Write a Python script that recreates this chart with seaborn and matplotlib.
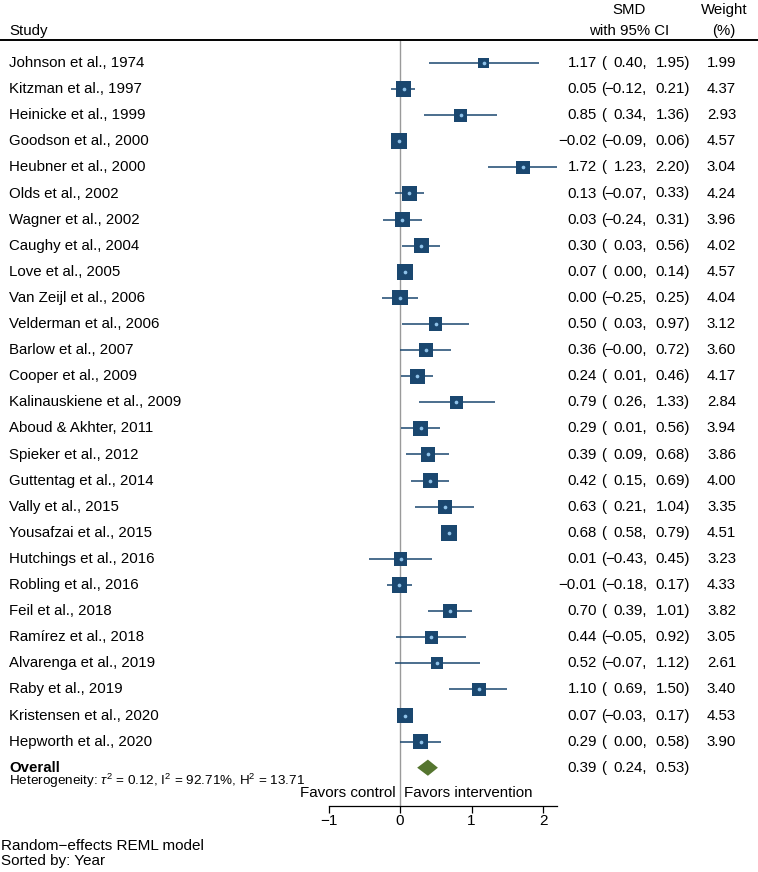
import numpy as np
import pandas as pd
import seaborn as sns
import matplotlib.pyplot as plt

# data
studies = ["Johnson et al., 1974", "Kitzman et al., 1997", "Heinicke et al., 1999",
           "Goodson et al., 2000", "Heubner et al., 2000", "Olds et al., 2002",
           "Wagner et al., 2002", "Caughy et al., 2004", "Love et al., 2005",
           "Van Zeijl et al., 2006", "Velderman et al., 2006", "Barlow et al., 2007",
           "Cooper et al., 2009", "Kalinauskiene et al., 2009", "Aboud & Akhter, 2011",
           "Spieker et al., 2012", "Guttentag et al., 2014", "Vally et al., 2015",
           "Yousafzai et al., 2015", "Hutchings et al., 2016", "Robling et al., 2016",
           "Feil et al., 2018", "Ramírez et al., 2018", "Alvarenga et al., 2019",
           "Raby et al., 2019", "Kristensen et al., 2020", "Hepworth et al., 2020"]
smd = [1.17, 0.05, 0.85, -0.02, 1.72, 0.13, 0.03, 0.30, 0.07, 0.00, 0.50, 0.36, 0.24,
       0.79, 0.29, 0.39, 0.42, 0.63, 0.68, 0.01, -0.01, 0.70, 0.44, 0.52, 1.10, 0.07, 0.29]
ci_low = [0.40, -0.12, 0.34, -0.09, 1.23, -0.07, -0.24, 0.03, 0.00, -0.25, 0.03, -0.00,
          0.01, 0.26, 0.01, 0.09, 0.15, 0.21, 0.58, -0.43, -0.18, 0.39, -0.05, -0.07,
          0.69, -0.03, 0.00]
ci_high = [1.95, 0.21, 1.36, 0.06, 2.20, 0.33, 0.31, 0.56, 0.14, 0.25, 0.97, 0.72, 0.46,
           1.33, 0.56, 0.68, 0.69, 1.04, 0.79, 0.45, 0.17, 1.01, 0.92, 1.12, 1.50, 0.17, 0.58]
ci_low_txt = ["0.40", "−0.12", "0.34", "−0.09", "1.23", "−0.07", "−0.24", "0.03", "0.00",
              "−0.25", "0.03", "−0.00", "0.01", "0.26", "0.01", "0.09", "0.15", "0.21",
              "0.58", "−0.43", "−0.18", "0.39", "−0.05", "−0.07", "0.69", "−0.03", "0.00"]
weights = [1.99, 4.37, 2.93, 4.57, 3.04, 4.24, 3.96, 4.02, 4.57, 4.04, 3.12, 3.60, 4.17,
           2.84, 3.94, 3.86, 4.00, 3.35, 4.51, 3.23, 4.33, 3.82, 3.05, 2.61, 3.40, 4.53, 3.90]
overall = [0.39, 0.24, 0.53]
x_ticks = [-1, 0, 1, 2]

navy = "#1a476f"
green = "#55752f"

df = pd.DataFrame({"study": studies, "smd": smd, "lo": ci_low, "hi": ci_high,
                   "weight": weights})
df["row"] = np.arange(len(df))

plt.rcParams["font.family"] = ["Liberation Sans", "DejaVu Sans"]
plt.rcParams["mathtext.fontset"] = "custom"
plt.rcParams["mathtext.rm"] = "Liberation Sans"
plt.rcParams["mathtext.it"] = "Liberation Sans:italic"
fs = 10.8

fig = plt.figure(figsize=(7.58, 8.72), dpi=100)
ax = fig.add_axes([0, 0, 1, 1])

# pixel helpers for placing text (plot scale: 0 at 400px, 71.5px per unit)
def px(p):
    return (p - 400) / 71.5

def py(p):
    return (p - 63) / 26.1

ax.set_xlim(px(0), px(758))
ax.set_ylim(py(872), py(0))

# zero line and header rule
ax.plot([0, 0], [py(40), py(806)], color="#9a9a9a", lw=1.0, zorder=1)
ax.plot([px(0), px(758)], [py(40), py(40)], color="black", lw=1.4, clip_on=False)

# confidence intervals
ax.hlines(df["row"], df["lo"], df["hi"], color=navy, lw=1.1, zorder=2)

# weighted squares
sns.scatterplot(data=df, x="smd", y="row", size="weight", sizes=(0, 145),
                size_norm=(0, 5), marker="s", color=navy, linewidth=0,
                legend=False, ax=ax, zorder=3)
sns.scatterplot(data=df, x="smd", y="row", s=7, color="#8fc3ea", linewidth=0,
                legend=False, ax=ax, zorder=4)

# overall diamond
orow = len(df)
est, olo, ohi = overall
ax.fill([olo, est, ohi, est], [orow, orow - 0.31, orow, orow + 0.31],
        color=green, lw=0, zorder=3)

# column positions (px)
c_est, c_par, c_lo, c_hi, c_w = 597, 601, 647, 690, 736

for i, r in df.iterrows():
    ax.text(px(9), r["row"], r["study"], ha="left", va="center", fontsize=fs)
    e = f"{r['smd']:.2f}".replace("-", "−")
    h = f"{r['hi']:.2f}".replace("-", "−")
    ax.text(px(c_est), i, e, ha="right", va="center", fontsize=fs)
    ax.text(px(c_par), i, "(", ha="left", va="center", fontsize=fs)
    ax.text(px(c_lo), i, ci_low_txt[i] + ",", ha="right", va="center", fontsize=fs)
    ax.text(px(c_hi), i, h + ")", ha="right", va="center", fontsize=fs)
    ax.text(px(c_w), i, f"{r['weight']:.2f}", ha="right", va="center", fontsize=fs)

ax.text(px(9), orow, "Overall", ha="left", va="center", fontsize=fs, fontweight="bold")
ax.text(px(c_est), orow, f"{est:.2f}", ha="right", va="center", fontsize=fs)
ax.text(px(c_par), orow, "(", ha="left", va="center", fontsize=fs)
ax.text(px(c_lo), orow, f"{olo:.2f},", ha="right", va="center", fontsize=fs)
ax.text(px(c_hi), orow, f"{ohi:.2f})", ha="right", va="center", fontsize=fs)
ax.text(px(9), py(781), r"Heterogeneity: $\tau^2$ = 0.12, I$^2$ = 92.71%, H$^2$ = 13.71",
        ha="left", va="center", fontsize=9.7)

# headers
ax.text(px(9), py(31), "Study", ha="left", va="center", fontsize=fs)
ax.text(px(629), py(10), "SMD", ha="center", va="center", fontsize=fs)
ax.text(px(629), py(31), "with 95% CI", ha="center", va="center", fontsize=fs)
ax.text(px(724), py(10), "Weight", ha="center", va="center", fontsize=fs)
ax.text(px(724), py(31), "(%)", ha="center", va="center", fontsize=fs)

ax.text(px(396), py(793), "Favors control", ha="right", va="center", fontsize=10.9)
ax.text(px(404), py(793), "Favors intervention", ha="left", va="center", fontsize=10.9)

ax.text(px(1), py(846), "Random−effects REML model", ha="left", va="center", fontsize=11)
ax.text(px(1), py(861), "Sorted by: Year", ha="left", va="center", fontsize=11)

# x axis
for s in ["top", "left", "right"]:
    ax.spines[s].set_visible(False)
ax.spines["bottom"].set_position(("data", py(806)))
ax.spines["bottom"].set_bounds(-1, 2.2)
ax.spines["bottom"].set_linewidth(0.9)
ax.set_xticks(x_ticks)
ax.set_xticklabels([str(t).replace("-", "−") for t in x_ticks])
ax.tick_params(axis="x", direction="out", length=5, width=0.9, pad=1, labelsize=11)
ax.set_yticks([])
ax.set_xlabel("")
ax.set_ylabel("")
ax.patch.set_alpha(0)

fig.savefig("out.png", dpi=100)
